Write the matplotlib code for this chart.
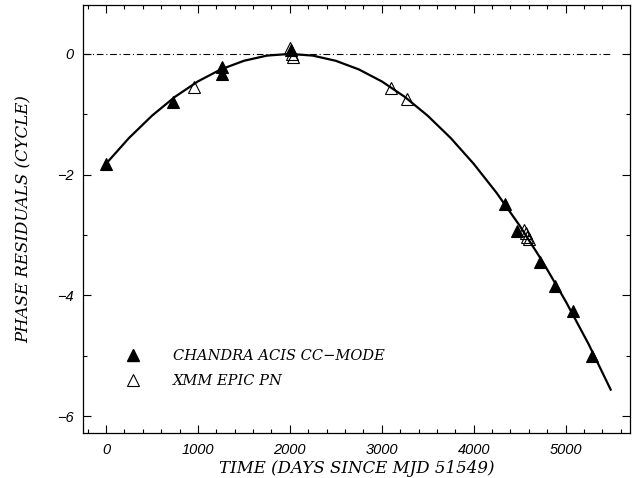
import matplotlib
matplotlib.use("Agg")
import matplotlib.pyplot as plt
from matplotlib.ticker import MultipleLocator
from matplotlib.lines import Line2D

# Chandra ACIS CC-mode (filled)
chandra_t = [0, 725, 1257, 1261, 2010, 4337, 4475, 4721, 4880, 5083, 5283]
chandra_r = [-1.82, -0.79, -0.21, -0.33, 0.06, -2.49, -2.93, -3.44, -3.85, -4.25, -5.00]
# XMM EPIC PN (open)
xmm_t = [953, 2005, 2020, 2030, 3105, 3279, 4547, 4565, 4583, 4601]
xmm_r = [-0.55, 0.10, 0.00, -0.05, -0.57, -0.75, -2.91, -2.97, -3.03, -3.07]
# fitted model curve
fit_t = [0, 250, 500, 750, 1000, 1250, 1500, 1750, 2000, 2250, 2500, 2750, 3000,
         3250, 3500, 3750, 4000, 4250, 4500, 4750, 5000, 5250, 5490]
fit_r = [-1.820, -1.393, -1.024, -0.711, -0.455, -0.256, -0.114, -0.028, 0.0,
         -0.028, -0.114, -0.256, -0.455, -0.711, -1.024, -1.393, -1.820, -2.303,
         -2.844, -3.441, -4.095, -4.806, -5.560]

label_font = {"family": "DejaVu Serif", "style": "italic", "size": 12}
legend_font = {"family": "DejaVu Serif", "style": "italic", "size": 10.5}

fig = plt.figure(figsize=(6.36, 4.78), dpi=100)
ax = fig.add_axes([0.1305, 0.094, 0.860, 0.8955])

ax.hlines(0, -250, 5500, colors="k", lw=0.8, linestyles=(0, (6, 2.5, 1, 2.5)))
ax.plot(fit_t, fit_r, "k-", lw=1.6)
ax.plot(chandra_t, chandra_r, "^", color="k", ms=9, mew=0.8, ls="none")
ax.plot(xmm_t, xmm_r, "^", mfc="none", mec="k", ms=9, mew=0.8, ls="none")

ax.set_xlim(-250, 5700)
ax.set_ylim(-6.28, 0.81)
ax.xaxis.set_major_locator(MultipleLocator(1000))
ax.xaxis.set_minor_locator(MultipleLocator(200))
ax.yaxis.set_major_locator(MultipleLocator(2))
ax.yaxis.set_minor_locator(MultipleLocator(1))
ax.tick_params(which="both", direction="in", top=True, right=True, width=0.8)
ax.tick_params(which="major", length=6, pad=7)
ax.tick_params(which="minor", length=3)
for lab in ax.get_xticklabels() + ax.get_yticklabels():
    lab.set_fontfamily("Liberation Sans")
    lab.set_fontstyle("italic")
    lab.set_fontsize(10.5)
for s in ax.spines.values():
    s.set_linewidth(0.9)

ax.set_xlabel("TIME (DAYS SINCE MJD 51549)", fontdict=label_font, labelpad=2)
ax.set_ylabel("PHASE RESIDUALS (CYCLE)", fontdict=label_font, labelpad=17)

handles = [Line2D([], [], marker="^", color="k", ls="none", ms=9),
           Line2D([], [], marker="^", mfc="none", mec="k", ls="none", ms=9, mew=0.8)]
ax.legend(handles, ["CHANDRA ACIS CC\u2212MODE", "XMM EPIC PN"], loc="lower left",
          bbox_to_anchor=(0.04, 0.075), frameon=False, handletextpad=1.8,
          labelspacing=0.75, prop=legend_font)

fig.savefig("out.png", dpi=100)
